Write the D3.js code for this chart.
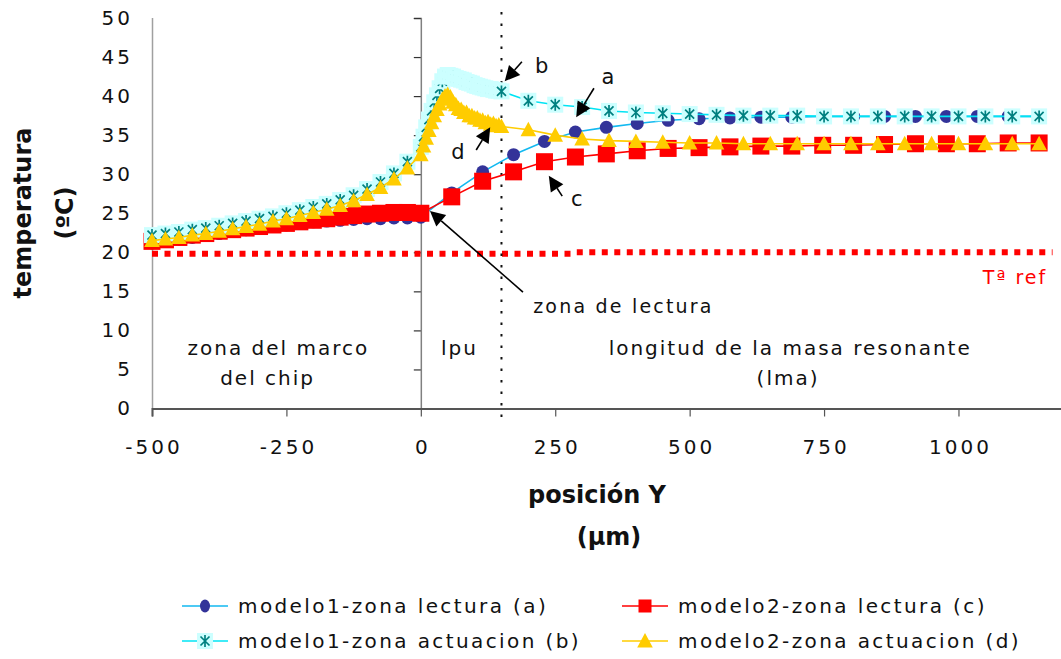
<!DOCTYPE html>
<html>
<head>
<meta charset="utf-8">
<script src="https://cdn.jsdelivr.net/npm/d3@7"></script>
<style>
  body { margin: 0; background: #ffffff; }
  svg text { font-family: "DejaVu Sans", Verdana, sans-serif; }
</style>
</head>
<body>
<svg id="chart" width="1061" height="659"></svg>
<script>
// ---- data -------------------------------------------------------------
// positions (µm) for the reading-zone series
const xLectura = [-500, -475, -450, -425, -400, -375, -350, -325, -300, -275,
  -250, -225, -200, -175, -150, -125, -100, -75, -50, -25,
  0, 57.5, 115, 172.5, 230, 287.5, 345, 402.5, 460, 517.5,
  575, 632.5, 690, 747.5, 805, 862.5, 920, 977.5, 1035, 1092.5, 1150];

// positions (µm) for the actuation-zone series
const xActuacion = [-500, -475, -450, -425, -400, -375, -350, -325, -300, -275,
  -250, -225, -200, -175, -150, -125, -100, -75, -50, -25,
  0, 5, 10, 15, 20, 25, 30, 35, 40, 45, 50, 55, 60, 65, 70, 75, 80, 85, 90, 95,
  100, 105, 110, 115, 120, 125, 130, 135, 140, 145, 150,
  200, 250, 300, 350, 400, 450, 500, 550, 600, 650, 700, 750, 800, 850, 900,
  950, 1000, 1050, 1100, 1150];

// temperature (ºC)
const modelo1Lectura = [21.2, 21.4, 21.7, 21.9, 22.2, 22.4, 22.7, 22.9, 23.1, 23.3,
  23.5, 23.7, 23.9, 24.0, 24.1, 24.2, 24.3, 24.3, 24.4, 24.4,
  24.5, 27.6, 30.3, 32.5, 34.2, 35.4, 36.0, 36.5, 36.9, 37.1,
  37.2, 37.3, 37.3, 37.4, 37.4, 37.4, 37.4, 37.4, 37.4, 37.4, 37.4];

const modelo2Lectura = [21.4, 21.6, 21.9, 22.2, 22.4, 22.7, 22.9, 23.1, 23.3, 23.5,
  23.7, 23.9, 24.1, 24.3, 24.5, 24.7, 24.9, 25.0, 25.1, 25.1,
  25.0, 27.1, 29.1, 30.3, 31.6, 32.2, 32.6, 33.0, 33.3, 33.4,
  33.5, 33.6, 33.6, 33.7, 33.7, 33.8, 33.9, 33.9, 33.9, 34.0, 34.0];

const modelo1Actuacion = [22.2, 22.4, 22.6, 22.9, 23.1, 23.4, 23.7, 24.0, 24.3, 24.6,
  25.0, 25.4, 25.8, 26.2, 26.7, 27.3, 28.1, 29.0, 30.1, 31.6,
  33.5, 34.8, 36.0, 37.0, 38.1, 39.2, 40.1, 41.0, 41.9, 42.5, 42.7, 42.6, 42.5, 42.3,
  42.2, 42.1, 42.0, 41.8, 41.7, 41.6, 41.4, 41.3, 41.2, 41.1, 41.0, 40.9, 40.9, 40.8,
  40.7, 40.7, 40.6,
  39.4, 38.9, 38.6, 38.1, 37.9, 37.8, 37.7, 37.6, 37.5, 37.5, 37.5, 37.4, 37.4, 37.4,
  37.4, 37.4, 37.4, 37.4, 37.4, 37.4];

const modelo2Actuacion = [21.5, 21.7, 21.9, 22.2, 22.4, 22.7, 23.0, 23.3, 23.6, 24.0,
  24.3, 24.7, 25.1, 25.5, 26.0, 26.6, 27.4, 28.3, 29.4, 30.8,
  32.5, 33.6, 34.6, 35.6, 36.6, 37.5, 38.3, 39.0, 39.6, 40.0, 40.2, 39.9, 39.2, 38.9,
  38.4, 38.3, 37.9, 37.9, 37.5, 37.5, 37.2, 37.2, 36.9, 36.9, 36.6, 36.7, 36.4, 36.5,
  36.2, 36.3, 36.1,
  35.7, 35.0, 34.5, 34.3, 34.2, 34.1, 34.0, 34.0, 33.9, 33.9, 33.9, 33.9, 33.9, 33.9,
  33.9, 33.9, 33.9, 33.9, 33.9, 33.9];

// reference temperature line
const xRef = [-500, 280, 290, 1175];
const tRef = [19.8, 19.8, 20.0, 20.0];

const xTicks = [-500, -250, 0, 250, 500, 750, 1000];
const yTicks = [0, 5, 10, 15, 20, 25, 30, 35, 40, 45, 50];

const seriesNames = ["modelo1-zona lectura (a)", "modelo2-zona lectura (c)",
  "modelo1-zona actuacion (b)", "modelo2-zona actuacion (d)"];

// ---- layout -----------------------------------------------------------
const svg = d3.select("#chart");
const x = d3.scaleLinear().domain([-500, 1200]).range([152, 1066]);
const y = d3.scaleLinear().domain([0, 50]).range([408.5, 18]);
const plain = d => String(d);

const styles = [
  { name: seriesNames[0], xs: xLectura, ys: modelo1Lectura, line: "#12B9F0", marker: "circle" },
  { name: seriesNames[1], xs: xLectura, ys: modelo2Lectura, line: "#FF0000", marker: "square" },
  { name: seriesNames[2], xs: xActuacion, ys: modelo1Actuacion, line: "#00E4F4", marker: "star" },
  { name: seriesNames[3], xs: xActuacion, ys: modelo2Actuacion, line: "#FFCC00", marker: "triangle" }
];

function drawMarker(g, type) {
  if (type === "circle") {
    g.append("circle").attr("r", 6.5).attr("fill", "#333399");
  } else if (type === "square") {
    g.append("rect").attr("x", -8.5).attr("y", -8.5).attr("width", 17).attr("height", 17)
      .attr("fill", "#FF0000");
  } else if (type === "star") {
    g.append("rect").attr("x", -8).attr("y", -8).attr("width", 16).attr("height", 16)
      .attr("fill", "#CCFFFF");
    g.append("path").attr("d", "M-4.5,-4.5L4.5,4.5M-4.5,4.5L4.5,-4.5M0,-6L0,6")
      .attr("stroke", "#008080").attr("stroke-width", 1.7).attr("fill", "none");
  } else if (type === "triangle") {
    g.append("path").attr("d", "M0,-8L7.8,6.5L-7.8,6.5Z").attr("fill", "#FFCC00");
  }
}

// clip for the plotting region
svg.append("defs").append("clipPath").attr("id", "plotClip")
  .append("rect").attr("x", 140).attr("y", 0).attr("width", 921).attr("height", 420);

// left border of the plot area
svg.append("line").attr("x1", 152.5).attr("x2", 152.5).attr("y1", y(50)).attr("y2", y(0))
  .attr("stroke", "#a0a0a0").attr("stroke-width", 1.5);

// y axis crossing at x = 0 (ticks only)
const yAxisG = svg.append("g").attr("transform", `translate(${x(0)},0)`)
  .call(d3.axisLeft(y).tickValues(yTicks).tickSize(7).tickFormat(""));
yAxisG.select(".domain").attr("stroke", "#808080").attr("stroke-width", 1.5);
yAxisG.selectAll(".tick line").attr("stroke", "#333").attr("stroke-width", 1.2);

// y tick labels at the far left
const yLab = svg.append("g").attr("transform", "translate(152,0)")
  .call(d3.axisLeft(y).tickValues(yTicks).tickSize(0).tickPadding(19).tickFormat(plain));
yLab.select(".domain").remove();
yLab.selectAll("text").attr("font-size", 20).attr("letter-spacing", 3)
  .attr("fill", "#111").attr("font-family", "DejaVu Sans, Verdana, sans-serif");

// reference temperature (dotted red)
svg.append("path")
  .datum(xRef.map((v, i) => [v, tRef[i]]))
  .attr("d", d3.line().x(d => x(d[0])).y(d => y(d[1])))
  .attr("fill", "none").attr("stroke", "#FF0000").attr("stroke-width", 6)
  .attr("stroke-dasharray", "6 6.5");

// dotted marker at the end of the pad zone (x = 150)
svg.append("line").attr("x1", x(150)).attr("x2", x(150)).attr("y1", 12).attr("y2", 417)
  .attr("stroke", "#111").attr("stroke-width", 2).attr("stroke-dasharray", "2.5 9");

// x axis
const xAxisG = svg.append("g").attr("transform", `translate(0,${y(0)})`)
  .call(d3.axisBottom(x).tickValues(xTicks).tickSize(8).tickPadding(23).tickFormat(plain));
xAxisG.select(".domain").attr("stroke", "#555").attr("stroke-width", 2);
xAxisG.selectAll(".tick line").attr("stroke", "#555").attr("stroke-width", 1.2);
xAxisG.selectAll("text").attr("font-size", 20).attr("letter-spacing", 3)
  .attr("fill", "#111").attr("font-family", "DejaVu Sans, Verdana, sans-serif")
  .attr("dx", 1.5);

// series
const plot = svg.append("g").attr("clip-path", "url(#plotClip)");
styles.forEach(s => {
  const pts = s.xs.map((v, i) => [v, s.ys[i]]);
  const g = plot.append("g");
  g.append("path").datum(pts)
    .attr("d", d3.line().x(d => x(d[0])).y(d => y(d[1])))
    .attr("fill", "none").attr("stroke", s.line).attr("stroke-width", 1.6);
  g.selectAll("g.m").data(pts).join("g").attr("class", "m")
    .attr("transform", d => `translate(${x(d[0])},${y(d[1])})`)
    .each(function () { drawMarker(d3.select(this), s.marker); });
});

// ---- zone labels ------------------------------------------------------
const zoneText = [
  { t: "zona del marco", xv: -265, yv: 6.9 },
  { t: "del chip", xv: -285, yv: 3.0 },
  { t: "lpu", xv: 72, yv: 6.9 },
  { t: "longitud de la masa resonante", xv: 687, yv: 6.9 },
  { t: "(lma)", xv: 683, yv: 3.0 }
];
svg.selectAll("text.zone").data(zoneText).join("text").attr("class", "zone")
  .attr("x", d => x(d.xv)).attr("y", d => y(d.yv))
  .attr("text-anchor", "middle").attr("font-size", 20).attr("letter-spacing", 2)
  .attr("fill", "#111").text(d => d.t);

svg.append("text").attr("x", x(1165)).attr("y", y(15.9)).attr("text-anchor", "end")
  .attr("font-size", 19).attr("letter-spacing", 2).attr("fill", "#FF0000").text("Tª ref");

// ---- arrows -----------------------------------------------------------
const arrows = [
  { label: "b", tail: [188, 44.4], tip: [156, 41.9], lab: [225, 43.0] },
  { label: "a", tail: [322, 41.0], tip: [289, 37.3], lab: [348, 41.6] },
  { label: "d", tail: [103, 33.1], tip: [129, 36.0], lab: [69, 32.0] },
  { label: "c", tail: [263, 27.2], tip: [238, 29.8], lab: [290, 25.9] },
  { label: "", tail: [190, 14.9], tip: [17, 25.3], lab: [0, 0] }
];
arrows.forEach(a => {
  const x1 = x(a.tail[0]), y1 = y(a.tail[1]), x2 = x(a.tip[0]), y2 = y(a.tip[1]);
  const ang = Math.atan2(y2 - y1, x2 - x1);
  const L = 15, W = 7.5;
  const bx = x2 - L * Math.cos(ang), by = y2 - L * Math.sin(ang);
  svg.append("line").attr("x1", x1).attr("y1", y1).attr("x2", bx).attr("y2", by)
    .attr("stroke", "#000").attr("stroke-width", 1.6);
  svg.append("path").attr("d",
    `M${x2},${y2}L${bx + W * Math.sin(ang)},${by - W * Math.cos(ang)}L${bx - W * Math.sin(ang)},${by + W * Math.cos(ang)}Z`)
    .attr("fill", "#000");
  if (a.label) {
    svg.append("text").attr("x", x(a.lab[0])).attr("y", y(a.lab[1]))
      .attr("text-anchor", "middle").attr("font-size", 21).attr("fill", "#111").text(a.label);
  }
});
svg.append("text").attr("x", x(209)).attr("y", y(12.2)).attr("font-size", 19)
  .attr("letter-spacing", 2.2).attr("fill", "#111").text("zona de lectura");

// ---- axis titles ------------------------------------------------------
svg.append("text").attr("transform", "translate(31,213) rotate(-90)")
  .attr("text-anchor", "middle").attr("font-size", 24).attr("font-weight", "bold")
  .attr("fill", "#111").text("temperatura");
svg.append("text").attr("transform", "translate(73,213) rotate(-90)")
  .attr("text-anchor", "middle").attr("font-size", 24).attr("font-weight", "bold")
  .attr("fill", "#111").text("(ºC)");
svg.append("text").attr("x", 597).attr("y", 503).attr("text-anchor", "middle")
  .attr("font-size", 24).attr("font-weight", "bold").attr("fill", "#111").text("posición Y");
svg.append("text").attr("x", 609).attr("y", 545).attr("text-anchor", "middle")
  .attr("font-size", 24).attr("font-weight", "bold").attr("fill", "#111").text("(µm)");

// ---- legend -----------------------------------------------------------
const legendPos = [[182, 606], [622, 606], [182, 641], [622, 641]];
styles.forEach((s, i) => {
  const [lx, ly] = legendPos[i];
  const g = svg.append("g").attr("transform", `translate(${lx},${ly})`);
  g.append("line").attr("x1", 0).attr("x2", 46).attr("stroke", s.line).attr("stroke-width", 1.6);
  const m = g.append("g").attr("transform", "translate(23,0)");
  if (s.marker === "circle") m.append("ellipse").attr("rx", 5).attr("ry", 6.5).attr("fill", "#333399");
  else if (s.marker === "square") m.append("rect").attr("x", -6.5).attr("y", -6.5).attr("width", 13).attr("height", 13).attr("fill", "#FF0000");
  else drawMarker(m, s.marker);
  g.append("text").attr("x", 56).attr("y", 0).attr("dy", "0.35em")
    .attr("font-size", 20).attr("letter-spacing", 2.4).attr("fill", "#111").text(s.name);
});
</script>
</body>
</html>
